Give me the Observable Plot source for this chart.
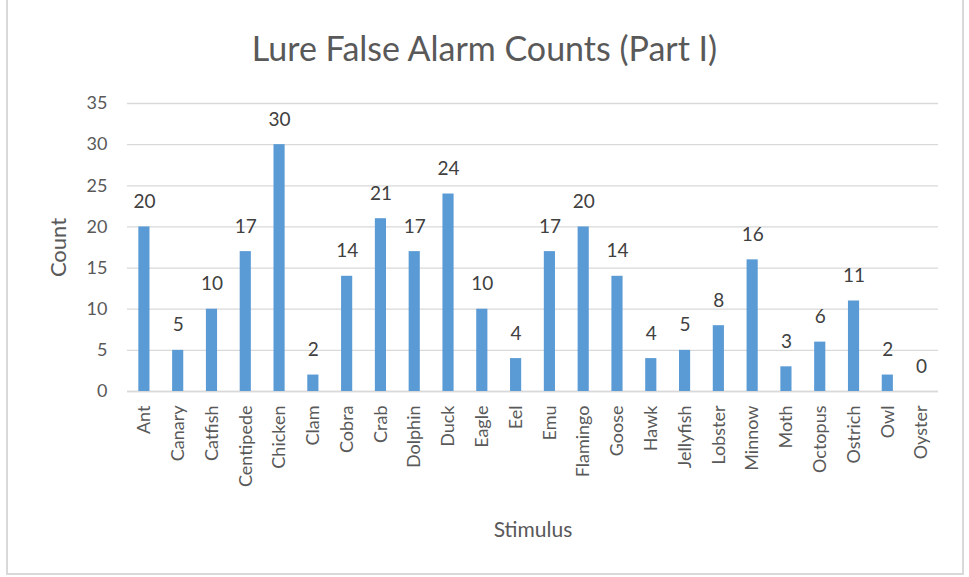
<!DOCTYPE html>
<html><head><meta charset="utf-8">
<script src="https://cdn.jsdelivr.net/npm/d3@7"></script>
<script src="https://cdn.jsdelivr.net/npm/@observablehq/plot@0.6"></script>
<style>
html,body{margin:0;padding:0;background:#fff;}
#wrap{position:relative;width:969px;height:577px;overflow:hidden;font-family:Lato,"Open Sans",sans-serif;}
#frame{position:absolute;left:6px;top:-2px;width:958px;height:577px;border:2px solid #d9d9d9;box-sizing:border-box;}
#title{position:absolute;left:0;top:26px;width:969px;text-align:center;font-size:34px;line-height:44px;color:#595959;}
#chart{position:absolute;left:0;top:80px;}
</style></head>
<body>
<div id="wrap"><div id="frame"></div><div id="title">Lure False Alarm Counts (Part I)</div><div id="chart"></div></div>
<script>
const stimuli = ["Ant","Canary","Catfish","Centipede","Chicken","Clam","Cobra","Crab","Dolphin","Duck","Eagle","Eel","Emu","Flamingo","Goose","Hawk","Jellyfish","Lobster","Minnow","Moth","Octopus","Ostrich","Owl","Oyster"];
const counts = [20,5,10,17,30,2,14,21,17,24,10,4,17,20,14,4,5,8,16,3,6,11,2,0];
const yTicks = [0,5,10,15,20,25,30,35];
const data = stimuli.map((s,i)=>({stimulus:s,count:counts[i]}));

const chart = Plot.plot({
  width: 969,
  height: 497,
  marginLeft: 127,
  marginRight: 31,
  marginTop: 23,
  marginBottom: 186,
  style: {fontFamily: "Lato, 'Open Sans', sans-serif", fontSize: "18px", color: "#595959", background: "transparent"},
  x: {domain: stimuli, paddingInner: 0.67, paddingOuter: 0.335, align: 0.5, round: false, label: null},
  y: {domain: [0,35], ticks: yTicks, label: null},
  marks: [
    Plot.gridY(yTicks, {stroke: "#d9d9d9", strokeOpacity: 1, strokeWidth: 1.3}),
    Plot.ruleY([0], {stroke: "#d9d9d9", strokeWidth: 1.6}),
    Plot.barY(data, {x: "stimulus", y: "count", fill: "#5b9bd5"}),
    Plot.text(data, {x: "stimulus", y: "count", text: d => String(d.count), dy: -25, fill: "#404040", fontSize: 19}),
    Plot.axisY(yTicks, {tickSize: 0, tickPadding: 20, fontSize: 18, fill: "#595959", label: null}),
    Plot.axisX({tickSize: 0, tickPadding: 14, tickRotate: -90, fontSize: 18, fill: "#595959", label: null}),
    Plot.text(["Stimulus"], {frameAnchor: "bottom", dy: 145, fontSize: 21, fill: "#595959"}),
    Plot.text(["Count"], {frameAnchor: "left", textAnchor: "middle", dx: -69, rotate: -90, fontSize: 22, fill: "#595959"})
  ]
});
document.getElementById("chart").appendChild(chart);
</script>
</body></html>
